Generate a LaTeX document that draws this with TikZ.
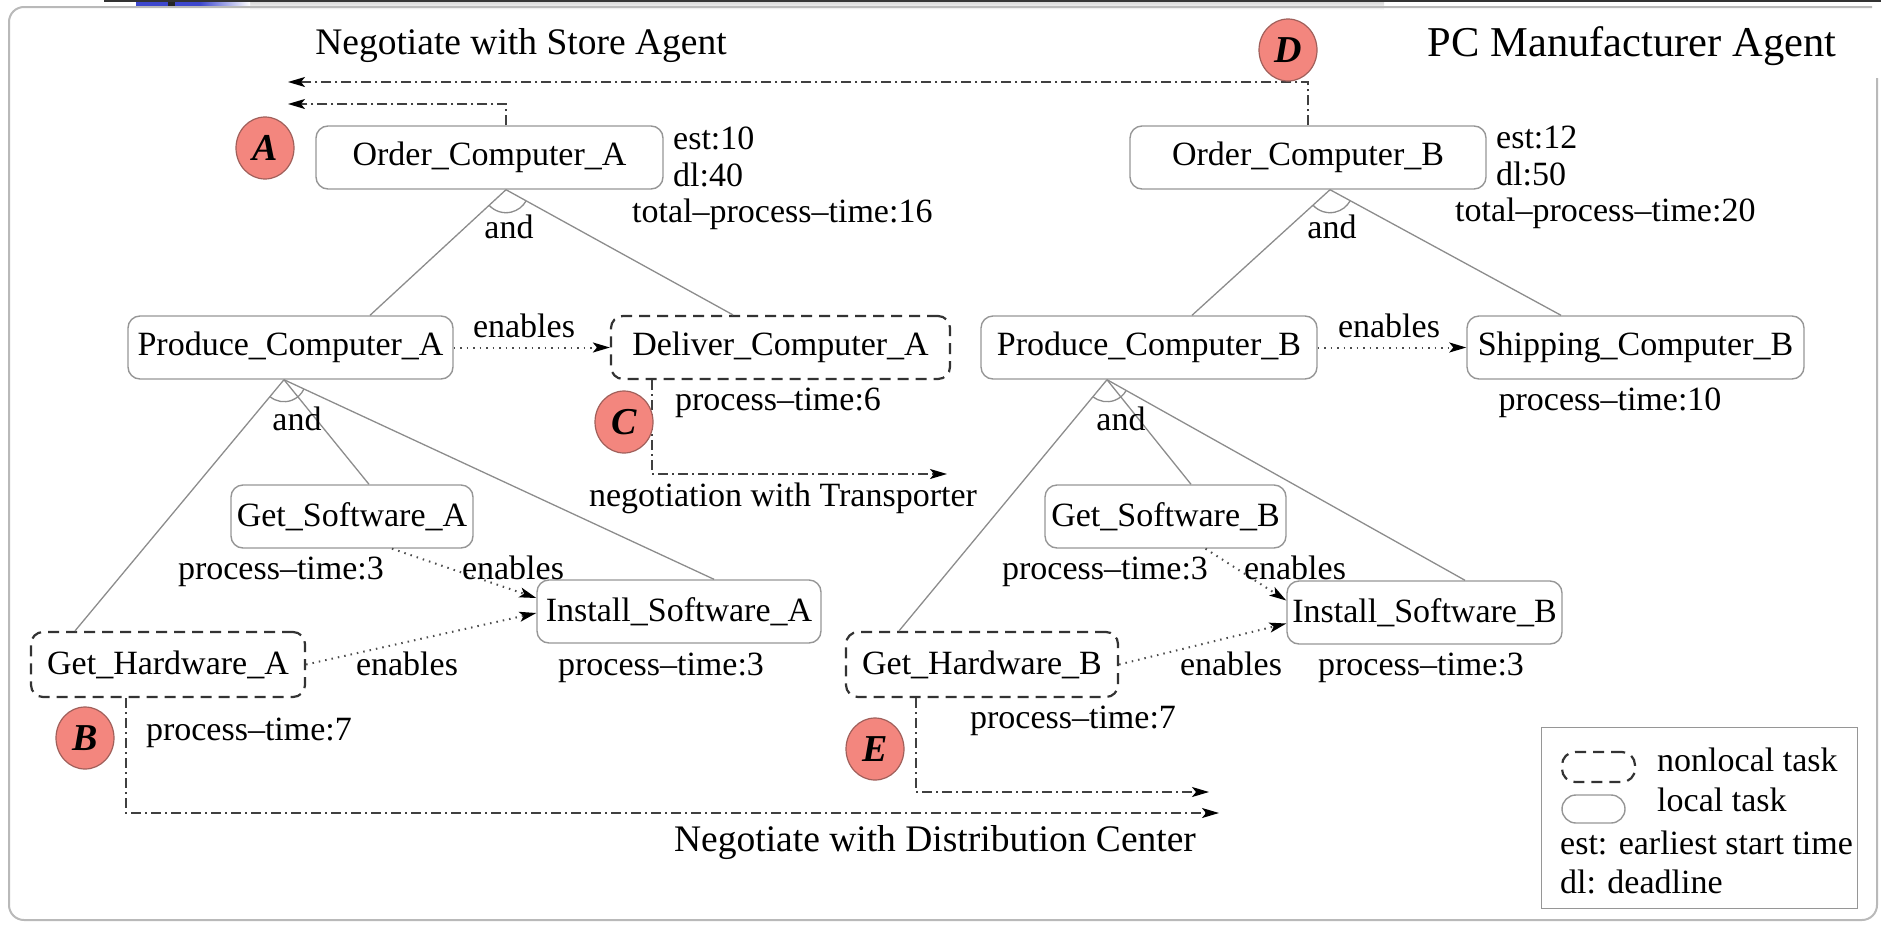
\documentclass[tikz,border=0pt]{standalone}
\usepackage{fontspec}
\setmainfont{Liberation Serif}
\usetikzlibrary{arrows.meta,shapes.geometric,angles,calc}

\newcommand\labfont{\fontsize{34}{40}\selectfont}
\newcommand\ttlfont{\fontsize{37.5}{44}\selectfont}
\newcommand\bigttlfont{\fontsize{42.5}{50}\selectfont}
\newcommand\badgefont{\fontsize{38}{44}\selectfont}

\definecolor{badge}{RGB}{243,134,126}
\definecolor{badgeline}{RGB}{160,95,90}
\definecolor{edgegray}{RGB}{140,140,140}
\definecolor{boxgray}{RGB}{150,150,150}
\definecolor{slideblue}{RGB}{62,72,205}

\begin{document}
\begin{tikzpicture}[x=1pt,y=-1pt,
  task/.style={draw=boxgray, line width=1.4pt, rounded corners=12pt, minimum height=63pt, inner sep=0pt, font=\labfont},
  nltask/.style={task, draw=black!80, line width=2.2pt, dash pattern=on 11pt off 7pt},
  lab/.style={font=\labfont, inner sep=0pt, text height=23pt, text depth=7pt},
  ttl/.style={font=\ttlfont, inner sep=0pt},
  badgenode/.style={ellipse, fill=badge, draw=badgeline, line width=1.2pt, minimum width=58pt, minimum height=62pt, inner sep=0pt, font=\badgefont\bfseries\itshape},
  tree/.style={draw=edgegray, line width=1.3pt},
  andarc/.style={draw=edgegray, line width=1.3pt, angle radius=23pt},
  enab/.style={draw=black!70, line width=2pt, dash pattern=on 1.5pt off 5pt, -{Stealth[length=17pt,width=10pt,inset=4pt,color=black]}},
  nego/.style={draw=black!75, line width=1.6pt, dash pattern=on 10pt off 4pt on 2pt off 4pt, -{Stealth[length=17pt,width=10pt,inset=4pt,color=black]}},
]
\useasboundingbox (0,0) rectangle (1881,924);

% slide header strip and outer frame
\fill[black!80] (104,0) rectangle (1881,2);
\shade[top color=gray!30, bottom color=gray!5] (250,2) rectangle (1384,9);
\fill[slideblue] (136,2) rectangle (168,7);
\fill[black!85] (168,2) rectangle (175,7);
\fill[slideblue] (175,2) rectangle (200,7);
\shade[left color=slideblue, right color=white] (200,2) rectangle (250,7);
\draw[gray!55, line width=2pt, rounded corners=15pt] (1877,78) -- (1877,920) -- (9,920) -- (9,7) -- (1872,7);

% titles
\node[ttl] (tStore) at (521,46) {Negotiate with Store Agent};
\node[font=\bigttlfont, inner sep=0pt] (tPC) at (1632,46) {PC Manufacturer Agent};
\node[ttl] (tDist) at (935,843) {Negotiate with Distribution Center};
\node[lab] (tTrans) at (783,498) {negotiation with Transporter};

% tasks
\node[task, minimum width=347pt] (OA) at (489.5,157.5) {Order\_Computer\_A};
\node[task, minimum width=356pt] (OB) at (1308,157.5) {Order\_Computer\_B};
\node[task, minimum width=325pt] (PA) at (290.5,347.5) {Produce\_Computer\_A};
\node[nltask, minimum width=339pt] (DA) at (780.5,347.5) {Deliver\_Computer\_A};
\node[task, minimum width=336pt] (PB) at (1149,347.5) {Produce\_Computer\_B};
\node[task, minimum width=337pt] (SB) at (1635.5,347.5) {Shipping\_Computer\_B};
\node[task, minimum width=242pt] (GSA) at (352,516.5) {Get\_Software\_A};
\node[task, minimum width=241pt] (GSB) at (1165.5,516.5) {Get\_Software\_B};
\node[task, minimum width=284pt] (ISA) at (679,611.5) {Install\_Software\_A};
\node[task, minimum width=275pt] (ISB) at (1424.5,612.5) {Install\_Software\_B};
\node[nltask, minimum width=274pt, minimum height=65pt] (GHA) at (168,664.5) {Get\_Hardware\_A};
\node[nltask, minimum width=272pt, minimum height=65pt] (GHB) at (982,664.5) {Get\_Hardware\_B};

% attribute labels
\node[lab, anchor=west] (estA) at (673,141) {est:10};
\node[lab, anchor=west] (dlA) at (673,178) {dl:40};
\node[lab, anchor=west] (tptA) at (632,214) {total--process--time:16};
\node[lab, anchor=west] (estB) at (1496,140) {est:12};
\node[lab, anchor=west] (dlB) at (1496,177) {dl:50};
\node[lab, anchor=west] (tptB) at (1455,213) {total--process--time:20};
\node[lab] (ptDA) at (778,402) {process--time:6};
\node[lab] (ptSB) at (1610,402) {process--time:10};
\node[lab] (ptGSA) at (281,571) {process--time:3};
\node[lab] (ptGSB) at (1105,571) {process--time:3};
\node[lab] (ptISA) at (661,667) {process--time:3};
\node[lab] (ptISB) at (1421,667) {process--time:3};
\node[lab] (ptGHA) at (249,732) {process--time:7};
\node[lab] (ptGHB) at (1073,720) {process--time:7};

% and-decomposition
\coordinate (aOA) at ([xshift=16.5pt]OA.south);
\coordinate (aOB) at ([xshift=22pt]OB.south);
\coordinate (aPA) at ([xshift=-6.5pt]PA.south);
\coordinate (aPB) at ([xshift=-42pt]PB.south);
\coordinate (tPA) at ([xshift=79.5pt]PA.north);
\coordinate (tDA) at ([xshift=-47.5pt]DA.north);
\coordinate (tPB) at ([xshift=43pt]PB.north);
\coordinate (tSB) at ([xshift=-74.5pt]SB.north);
\coordinate (tGSA) at ([xshift=17pt]GSA.north);
\coordinate (tISA) at ([xshift=35pt]ISA.north);
\coordinate (tGHA) at ([xshift=-93pt]GHA.north);
\coordinate (tGSB) at ([xshift=25.5pt]GSB.north);
\coordinate (tISB) at ([xshift=40.5pt]ISB.north);
\coordinate (tGHB) at ([xshift=-83pt]GHB.north);

\draw[tree] (aOA) -- (tPA);
\draw[tree] (aOA) -- (tDA);
\draw[tree] (aOB) -- (tPB);
\draw[tree] (aOB) -- (tSB);
\draw[tree] (aPA) -- (tGHA);
\draw[tree] (aPA) -- (tGSA);
\draw[tree] (aPA) -- (tISA);
\draw[tree] (aPB) -- (tGHB);
\draw[tree] (aPB) -- (tGSB);
\draw[tree] (aPB) -- (tISB);
\pic[andarc] {angle = tPA--aOA--tDA};
\pic[andarc] {angle = tPB--aOB--tSB};
\pic[andarc, angle radius=22pt] {angle = tGHA--aPA--tISA};
\pic[andarc, angle radius=22pt] {angle = tGHB--aPB--tISB};
\node[lab] (andOA) at (509,230) {and};
\node[lab] (andOB) at (1332,230) {and};
\node[lab] (andPA) at (297,422) {and};
\node[lab] (andPB) at (1121,422) {and};

% enables relations
\draw[enab] (PA.east) -- (DA.west);
\draw[enab] (PB.east) -- (SB.west);
\draw[enab] ([xshift=40pt]GSA.south) -- ([yshift=13.5pt]ISA.west);
\draw[enab] (GHA.east) -- ([yshift=-1.5pt]ISA.west);
\draw[enab] ([xshift=40pt]GSB.south) -- ([yshift=12pt]ISB.west);
\draw[enab] (GHB.east) -- ([yshift=-11pt]ISB.west);
\node[lab] (enPA) at (524,329) {enables};
\node[lab] (enPB) at (1389,329) {enables};
\node[lab] (enGSA) at (513,571) {enables};
\node[lab] (enGSB) at (1295,571) {enables};
\node[lab] (enGHA) at (407,667) {enables};
\node[lab] (enGHB) at (1231,667) {enables};

% negotiation links
\coordinate (sa1) at (288,82);
\coordinate (sa2) at (288,104);
\coordinate (ta) at (947,474);
\coordinate (dc1) at (1219,813);
\coordinate (dc2) at (1209,792);
\draw[nego] (OB.north) |- (sa1);
\draw[nego] ([xshift=16.5pt]OA.north) |- (sa2);
\draw[nego] ([xshift=-128.5pt]DA.south) |- (ta);
\draw[nego] ([xshift=-42pt]GHA.south) |- (dc1);
\draw[nego] ([xshift=-66pt]GHB.south) |- (dc2);

% markers
\node[badgenode] (bA) at (265,148) {A};
\node[badgenode] (bD) at (1288,50) {D};
\node[badgenode] (bC) at (624,422) {C};
\node[badgenode] (bB) at (85,738) {B};
\node[badgenode] (bE) at (875,749) {E};

% legend
\node[draw=boxgray, line width=1.4pt, minimum width=316pt, minimum height=181pt, inner sep=0pt, anchor=north west] (leg) at (1541,727) {};
\node[nltask, minimum width=73pt, minimum height=30pt, rounded corners=13pt] (legNL) at (1598.5,767) {};
\node[task, minimum width=63pt, minimum height=28pt, rounded corners=14pt] (legL) at (1593.5,809) {};
\node[lab, anchor=west] (legNLt) at (1657,763) {nonlocal task};
\node[lab, anchor=west] (legLt) at (1657,803) {local task};
\node[lab, anchor=west] (legEst) at (1560,846) {est: earliest start time};
\node[lab, anchor=west] (legDl) at (1560,885) {dl: deadline};
\end{tikzpicture}
\end{document}
